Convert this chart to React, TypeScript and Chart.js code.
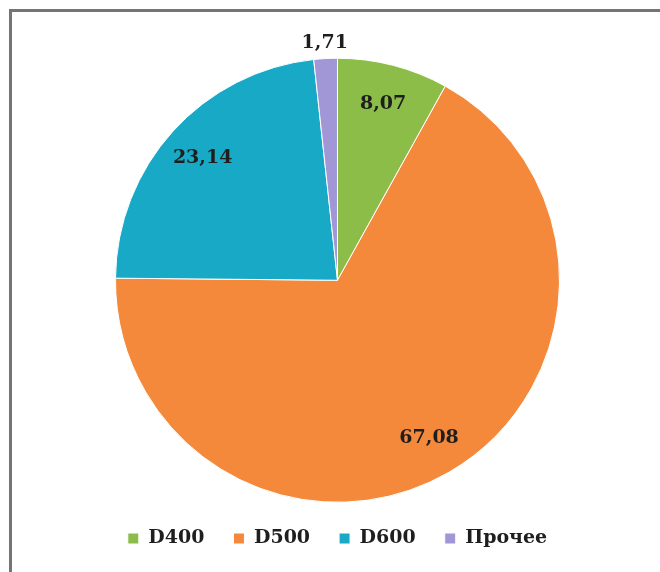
import React, { useEffect, useRef } from "react";
import { Chart, registerables } from "chart.js";

Chart.register(...registerables);

const categories = ["D400", "D500", "D600", "Прочее"];
const values = [8.07, 67.08, 23.14, 1.71];
const valueLabels = ["8,07", "67,08", "23,14", "1,71"];
const colors = ["#8CBD48", "#F5893B", "#17A9C6", "#A297D6"];

const FONT = "'DejaVu Serif', serif";

const labelPlugin = {
  id: "sliceLabels",
  afterDatasetsDraw(chart: any) {
    const ctx = chart.ctx;
    const meta = chart.getDatasetMeta(0);
    const total = values.reduce((a, b) => a + b, 0);
    ctx.save();
    ctx.font = `bold 19px ${FONT}`;
    ctx.fillStyle = "#1e1e1e";
    ctx.textAlign = "center";
    ctx.textBaseline = "middle";
    meta.data.forEach((arc: any, i: number) => {
      const p = arc.getProps(["x", "y", "startAngle", "endAngle", "outerRadius"], true);
      const mid = (p.startAngle + p.endAngle) / 2;
      const share = (values[i] / total) * 100;
      const r = share < 5 ? p.outerRadius + 16 : p.outerRadius * 0.82;
      ctx.fillText(valueLabels[i], p.x + Math.cos(mid) * r, p.y + Math.sin(mid) * r);
    });
    ctx.restore();
  },
};

export default function App() {
  const ref = useRef<HTMLCanvasElement | null>(null);
  useEffect(() => {
    if (!ref.current) return;
    const chart = new Chart(ref.current, {
      type: "pie",
      data: {
        labels: categories,
        datasets: [
          {
            data: values,
            backgroundColor: colors,
            borderColor: "#ffffff",
            borderWidth: 1,
            radius: 222,
            clip: false,
          } as any,
        ],
      },
      options: {
        animation: false,
        responsive: false,
        maintainAspectRatio: false,
        layout: { padding: { top: 48.5, left: 3, right: 0, bottom: 0 } },
        plugins: {
          legend: {
            position: "bottom",
            labels: {
              boxWidth: 11,
              boxHeight: 11,
              padding: 29,
              color: "#1e1e1e",
              font: { family: FONT, size: 19, weight: "bold" },
            },
          },
          tooltip: { enabled: false },
        },
      },
      plugins: [labelPlugin],
    });
    return () => chart.destroy();
  }, []);

  return (
    <div
      style={{
        position: "fixed",
        left: 9,
        top: 9,
        right: -20,
        bottom: -20,
        borderLeft: "3px solid #757575",
        borderTop: "3px solid #757575",
        overflow: "hidden",
        background: "#ffffff",
      }}
    >
      <canvas ref={ref} width={648} height={546} style={{ display: "block" }} />
    </div>
  );
}
